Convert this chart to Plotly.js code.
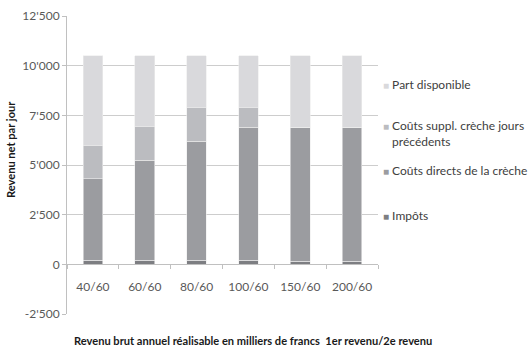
<!DOCTYPE html>
<html>
<head>
<meta charset="utf-8">
<script src="https://cdn.plot.ly/plotly-3.0.1.min.js"></script>
<style>html,body{margin:0;padding:0;background:#fff;}#chart{width:532px;height:347px;}</style>
</head>
<body>
<div id="chart"></div>
<script>
const categories = ['40/60', '60/60', '80/60', '100/60', '150/60', '200/60'];
const impots = [200, 200, 200, 200, 150, 150];
const coutsDirects = [4100, 5050, 6000, 6700, 6750, 6750];
const coutsSuppl = [1700, 1700, 1700, 1000, 0, 0];
const partDisponible = [4500, 3550, 2600, 2600, 3600, 3600];
const yTickVals = [-2500, 0, 2500, 5000, 7500, 10000, 12500];
const yTickText = ["-2'500", "0", "2'500", "5'000", "7'500", "10'000", "12'500"];

const seriesNames = ['Impôts', 'Coûts directs de la crèche', 'Coûts suppl. crèche jours précédents', 'Part disponible'];
const seriesColors = ['#7d7e82', '#9b9ca0', '#bbbcc0', '#d9d9dc'];
const seriesValues = [impots, coutsDirects, coutsSuppl, partDisponible];
// legend labels as drawn (with line break) and their vertical centres in pixels
const legendLabels = ['Impôts', 'Coûts directs de la crèche', 'Coûts suppl. crèche jours<br>{pad}précédents', 'Part disponible'];
const legendRowsPx = [215, 170, 133.5, 84];

const font = "Lato, 'Open Sans', sans-serif";
const traces = seriesValues.map((vals, i) => ({
  type: 'bar', x: categories, y: vals, name: seriesNames[i],
  marker: {color: seriesColors[i], line: {color: '#ececec', width: 0.6}},
  showlegend: false, hoverinfo: 'skip'
}));

const sq = c => '<span style="color:' + c + ';font-size:10px">■</span> ';
const legendAnn = legendLabels.map((lbl, i) => ({
  text: sq(seriesColors[i]) + lbl.replace('{pad}', sq('rgba(255,255,255,0)')),
  xref: 'paper', yref: 'paper', x: (381 - 67) / 311, y: (314 - legendRowsPx[i]) / 298,
  xanchor: 'left', yanchor: 'middle', align: 'left', showarrow: false,
  font: {size: 12, color: '#404040', family: font}
}));

const titleFont = {size: 11.1, color: '#1a1a1a', family: font, weight: 'bold'};

const layout = {
  width: 532, height: 347,
  margin: {l: 67, r: 154, t: 16, b: 33},
  paper_bgcolor: '#fff', plot_bgcolor: '#fff',
  barmode: 'stack', bargap: 0.62, showlegend: false,
  font: {family: font, size: 12, color: '#595959'},
  xaxis: {
    type: 'category', anchor: 'free', position: 2500 / 15000,
    showline: true, linecolor: '#c0c0c0', linewidth: 1,
    ticks: 'outside', tickson: 'boundaries', ticklen: 4, tickcolor: '#c0c0c0',
    ticklabelstandoff: 11, tickangle: 0,
    showgrid: false, tickfont: {size: 12, color: '#595959'},
    automargin: false
  },
  yaxis: {
    range: [-2500, 12500], tickvals: yTickVals, ticktext: yTickText,
    showline: true, linecolor: '#c0c0c0', linewidth: 1,
    ticks: 'outside', ticklen: 4, tickcolor: '#c0c0c0',
    showgrid: true, gridcolor: '#cdcdcd', gridwidth: 1, zeroline: false,
    tickfont: {size: 12, color: '#595959'},
    automargin: false
  },
  annotations: [
    {text: 'Revenu brut annuel réalisable en milliers de francs  1er revenu/2e revenu',
     xref: 'paper', yref: 'paper', x: (253 - 67) / 311, y: -(340 - 314) / 298,
     xanchor: 'center', yanchor: 'middle', showarrow: false, font: titleFont},
    {text: 'Revenu net par jour', textangle: -90,
     xref: 'paper', yref: 'paper', x: (10 - 67) / 311, y: (314 - 150) / 298,
     xanchor: 'center', yanchor: 'middle', showarrow: false, font: titleFont}
  ].concat(legendAnn)
};

Plotly.newPlot('chart', traces, layout, {displayModeBar: false, staticPlot: true});
</script>
</body>
</html>
